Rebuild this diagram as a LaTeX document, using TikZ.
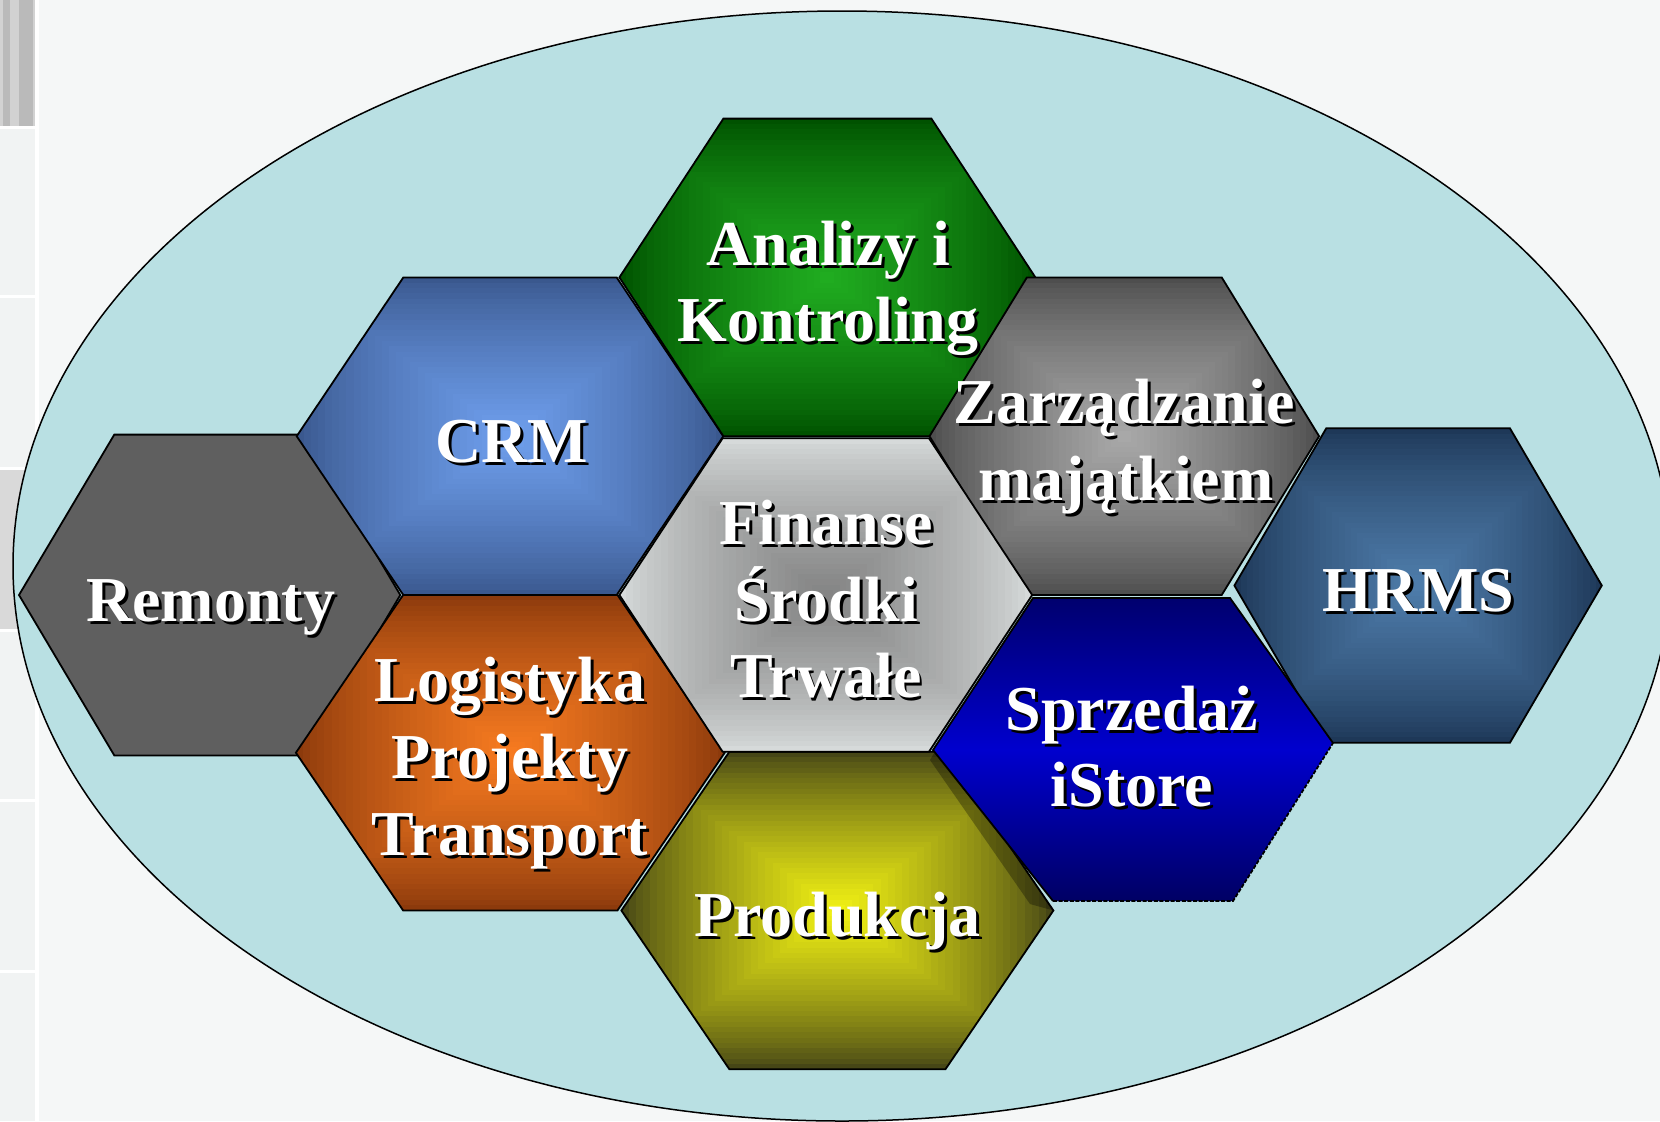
\documentclass[tikz,border=0pt]{standalone}
\usepackage{fontspec}
\setmainfont{Liberation Serif}
\definecolor{bgc}{HTML}{F5F7F7}
\definecolor{colc}{HTML}{F1F3F3}
\definecolor{barl}{HTML}{D2D2D2}
\definecolor{bard}{HTML}{BABABA}
\definecolor{bandc}{HTML}{D9D9D9}
\definecolor{ellc}{HTML}{B9E0E3}
\definecolor{grnO}{RGB}{0,82,0}
\definecolor{grnI}{RGB}{32,172,32}
\definecolor{crmO}{RGB}{58,88,142}
\definecolor{crmI}{RGB}{110,158,236}
\definecolor{logO}{RGB}{140,58,12}
\definecolor{logI}{RGB}{246,122,32}
\definecolor{finO}{RGB}{214,218,218}
\definecolor{finI}{RGB}{132,132,132}
\definecolor{proO}{RGB}{70,70,22}
\definecolor{proI}{RGB}{240,240,20}
\definecolor{zarO}{RGB}{78,78,78}
\definecolor{zarI}{RGB}{168,168,168}
\definecolor{hrO}{RGB}{30,56,88}
\definecolor{hrI}{RGB}{78,124,170}
\definecolor{remC}{HTML}{5F5F5F}
\definecolor{sprT}{RGB}{0,0,110}
\definecolor{sprM}{RGB}{0,0,206}
\definecolor{sprB}{RGB}{0,0,100}
\newcommand{\shd}[1]{\rlap{\kern1.5pt\raisebox{-1.5pt}{\textcolor{black}{#1}}}#1}
\newcommand{\hexshade}[6]{%
  \begin{scope}
    \clip ({#1-#3},{#2}) -- ({#1-#3/2},{#2-#4}) -- ({#1+#3/2},{#2-#4}) -- ({#1+#3},{#2}) -- ({#1+#3/2},{#2+#4}) -- ({#1-#3/2},{#2+#4}) -- cycle;
    \foreach \i in {0,...,29}{%
      \pgfmathtruncatemacro{\p}{round(100*(\i/29)^0.8)}%
      \colorlet{hxcol}{#6!\p!#5}%
      \fill[hxcol] ({#1-#3*(1-\i/30)},{#2-#4*(1-\i/30)}) rectangle ({#1+#3*(1-\i/30)},{#2+#4*(1-\i/30)});
    }
  \end{scope}
  \draw[hexline] ({#1-#3},{#2}) -- ({#1-#3/2},{#2-#4}) -- ({#1+#3/2},{#2-#4}) -- ({#1+#3},{#2}) -- ({#1+#3/2},{#2+#4}) -- ({#1-#3/2},{#2+#4}) -- cycle;
}
\tikzset{
  hexline/.style={draw=black, line width=0.9pt, line join=miter},
  lbl/.style={text=white, font=\fontsize{32}{38}\selectfont\bfseries, inner sep=0pt, anchor=base},
}
\begin{document}
\begin{tikzpicture}[x=0.5pt,y=-0.5pt]
\useasboundingbox (0,0) rectangle (1660,1121);
\clip (0,0) rectangle (1660,1121);
\fill[bgc] (0,0) rectangle (1660,1121);
% left column
\fill[colc] (0,0) rectangle (35,1121);
\fill[white] (35,0) rectangle (39,1121);
\fill[barl] (0,0) rectangle (35,126);
\fill[bard] (3,0) rectangle (10,126);
\fill[bard] (19,0) rectangle (33,126);
\fill[bandc] (0,468) rectangle (35,630);
\foreach \yy in {127,296,468,630,800,971}{\fill[white] (0,\yy-1.5) rectangle (35,\yy+1.5);}
% ellipse
\draw[fill=ellc, line width=0.75pt] (842,566) ellipse [x radius=414.5pt, y radius=277.5pt];
% hexagons
\fill[remC] (19,595) -- (114.3,434.6) -- (305,434.6) -- (400.3,595) -- (305,755.4) -- (114.3,755.4) -- cycle;
\draw[hexline] (19,595) -- (114.3,434.6) -- (305,434.6) -- (400.3,595) -- (305,755.4) -- (114.3,755.4) -- cycle;
\hexshade{510}{436.2}{213.3}{158.8}{crmO}{crmI}
\hexshade{510.3}{752.7}{214.4}{157.7}{logO}{logI}
\hexshade{827.4}{277.4}{208}{158.8}{grnO}{grnI}
\hexshade{1124.3}{436.2}{194.8}{158.8}{zarO}{zarI}
\hexshade{1418.1}{585.5}{183.7}{157.2}{hrO}{hrI}
\hexshade{837.4}{910.5}{216}{158.8}{proO}{proI}
\hexshade{825.8}{595}{206.4}{156.7}{finO}{finI}
% shadow strip on Produkcja
\fill[black, opacity=0.3] (945.4,751.7) -- (1053.4,910.5) -- (1030,904) -- (930,760) -- (935,751.7) -- cycle;
% Sprzedaz
\shade[top color=sprT, bottom color=sprB, middle color=sprM] (1033,598) -- (1230,598) -- (1333,743) -- (1233,901) -- (1053,901) -- (933,750) -- cycle;
\draw[hexline] (1333,743) -- (1230,598) -- (1033,598) -- (933,750) -- (1053,901);
\draw[hexline, dash pattern=on 2pt off 0.8pt] (1053,901) -- (1233,901) -- (1333,743);
% labels
\node[lbl] (remonty) at (210.7,621.5) {\shd{Remonty}};
\node[lbl] (crm) at (512,462.2) {\shd{CRM}};
\node[lbl] (log1) at (510,701.9) {\shd{Logistyka}};
\node[lbl] (log2) at (510,778.7) {\shd{Projekty}};
\node[lbl] (log3) at (510,855.5) {\shd{Transport}};
\node[lbl] (ana1) at (828,265) {\shd{Analizy i}};
\node[lbl] (ana2) at (828,341.7) {\shd{Kontroling}};
\node[lbl] (fin1) at (826,544.2) {\shd{Finanse}};
\node[lbl] (fin2) at (826,621) {\shd{Środki}};
\node[lbl] (fin3) at (826,697.8) {\shd{Trwałe}};
\node[lbl] (prod) at (837.5,936.5) {\shd{Produkcja}};
\node[lbl] (zar1) at (1124,423.8) {\shd{Zarządzanie}};
\node[lbl] (zar2) at (1126,500.6) {\shd{majątkiem}};
\node[lbl] (hrms) at (1418,611.5) {\shd{HRMS}};
\node[lbl] (spr1) at (1132,730) {\shd{Sprzedaż}};
\node[lbl] (spr2) at (1132,806.7) {\shd{iStore}};
\end{tikzpicture}
\end{document}
